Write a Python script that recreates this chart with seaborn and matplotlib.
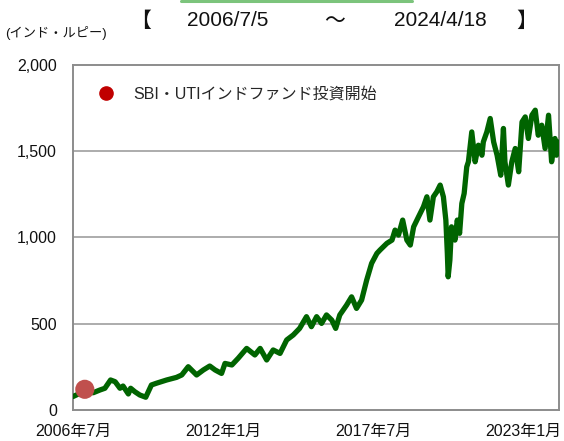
import matplotlib
matplotlib.use("Agg")
import matplotlib.pyplot as plt
import seaborn as sns
import pandas as pd
from matplotlib.lines import Line2D

# ---------------- data ----------------
dates = [
    "2006-07-05", "2006-12-10", "2007-04-01", "2007-07-01", "2007-09-05", "2007-11-20",
    "2008-01-20", "2008-03-25", "2008-05-05", "2008-07-15", "2008-08-15", "2008-10-10",
    "2008-12-15", "2009-03-05", "2009-05-20", "2009-07-25", "2009-12-10", "2010-04-20",
    "2010-06-30", "2010-09-25", "2011-01-15", "2011-04-15", "2011-07-10", "2011-09-20",
    "2011-12-15", "2012-01-30", "2012-05-01", "2012-07-25", "2012-11-15", "2013-03-05",
    "2013-05-15", "2013-08-10", "2013-11-05", "2014-02-05", "2014-05-05", "2014-08-01",
    "2014-10-25", "2015-01-25", "2015-04-01", "2015-06-10", "2015-08-15", "2015-10-20",
    "2015-12-30", "2016-02-20", "2016-04-15", "2016-07-15", "2016-09-20", "2016-11-25",
    "2017-02-01", "2017-04-10", "2017-06-15", "2017-08-25", "2017-10-05", "2018-01-05",
    "2018-03-15", "2018-04-25", "2018-06-10", "2018-08-05", "2018-09-30", "2018-11-15",
    "2018-12-30", "2019-03-05", "2019-05-10", "2019-06-25", "2019-08-05", "2019-09-20",
    "2019-11-05", "2019-12-20", "2020-02-01", "2020-03-05", "2020-03-25", "2020-04-05",
    "2020-04-28", "2020-05-20", "2020-07-05", "2020-08-05", "2020-09-05", "2020-10-05",
    "2020-11-05", "2020-12-10", "2021-01-01", "2021-02-15", "2021-04-01", "2021-05-15",
    "2021-07-01", "2021-07-20", "2021-09-05", "2021-10-20", "2021-12-05", "2022-01-20",
    "2022-03-10", "2022-04-15", "2022-05-05", "2022-06-20", "2022-08-05", "2022-09-20",
    "2022-11-05", "2022-12-20", "2023-02-01", "2023-03-15", "2023-05-01", "2023-06-15",
    "2023-07-25", "2023-09-10", "2023-10-25", "2023-12-10", "2024-01-20", "2024-03-05",
    "2024-03-25", "2024-04-18",
]
values = [
    78, 110, 100, 116, 126, 174,
    164, 126, 139, 93, 126, 106,
    87, 74, 145, 155, 174, 189,
    203, 251, 203, 232, 255, 232,
    212, 270, 261, 300, 357, 319,
    357, 290, 348, 328, 406, 435,
    473, 541, 483, 541, 502, 551,
    521, 473, 551, 608, 656, 589,
    637, 753, 850, 908, 927, 966,
    985, 1043, 1014, 1101, 985, 956,
    1062, 1120, 1178, 1236, 1101, 1236,
    1265, 1304, 1236, 1101, 908, 772,
    869, 1062, 985, 1101, 1024, 1197,
    1255, 1410, 1439, 1612, 1439, 1535,
    1477, 1554, 1612, 1690, 1554, 1477,
    1361, 1632, 1439, 1304, 1439, 1516,
    1381, 1670, 1699, 1574, 1709, 1738,
    1593, 1651, 1516, 1709, 1439, 1574,
    1477, 1554,
]
start_date = "2006-12-10"
start_value = 120
legend_label = "SBI・UTIインドファンド投資開始"
unit_label = "(インド・ルピー)"
period_start = "2006/7/5"
period_end = "2024/4/18"
x_tick_dates = ["2006-07-05", "2012-01-05", "2017-07-05", "2023-01-05"]
x_tick_labels = ["2006年7月", "2012年1月", "2017年7月", "2023年1月"]
y_ticks = [0, 500, 1000, 1500, 2000]
y_tick_labels = ["0", "500", "1,000", "1,500", "2,000"]

# ---------------- styling ----------------
sns.set_theme(style="white")
plt.rcParams["font.family"] = ["Liberation Sans", "Noto Sans CJK JP", "DejaVu Sans"]

df = pd.DataFrame({"date": pd.to_datetime(dates), "value": values})

fig = plt.figure(figsize=(5.64, 4.41), dpi=100)
ax = fig.add_axes([73 / 564, 1 - 410 / 441, (559 - 73) / 564, (410 - 65) / 441])

GRID = "#A6A6A6"
SPINE = "#8C8C8C"
for y in y_ticks[1:-1]:
    ax.axhline(y, color=GRID, lw=1.3, zorder=1)

sns.lineplot(data=df, x="date", y="value", ax=ax, color="#006400", lw=3.8,
             solid_joinstyle="round", solid_capstyle="round", zorder=3)
ax.scatter(pd.to_datetime([start_date]), [start_value], s=190, color="#C0504D",
           edgecolor="none", zorder=4)

ax.set_xlim(pd.Timestamp("2006-07-05"), pd.Timestamp("2024-04-28"))
ax.set_ylim(0, 2000)
ax.set_xticks(pd.to_datetime(x_tick_dates))
ax.set_xticklabels(x_tick_labels)
ax.set_yticks(y_ticks)
ax.set_yticklabels(y_tick_labels)
ax.set_xlabel("")
ax.set_ylabel("")
ax.tick_params(axis="x", direction="in", length=4, width=1.2, color=SPINE,
               labelsize=11.5, pad=10, labelcolor="#111111")
ax.tick_params(axis="y", length=0, labelsize=11.5, pad=11.5, labelcolor="#111111")
for s in ax.spines.values():
    s.set_visible(True)
    s.set_color(SPINE)
    s.set_linewidth(1.4)

# legend-like annotation
ax.legend(handles=[Line2D([], [], marker="o", ls="none", color="#C00000",
                          markersize=9.5, label=legend_label)],
          loc="upper left", bbox_to_anchor=(0.012, 0.97), frameon=False,
          fontsize=11.5, handletextpad=0.7, borderaxespad=0.3)

# header texts
fig.text(5 / 564, 1 - 33 / 441, unit_label, fontsize=9.5, va="center", ha="left",
         color="#111111")
fig.text(141 / 564, 1 - 21 / 441, "【", fontsize=15, va="center", ha="center",
         color="#111111")
fig.text(228 / 564, 1 - 21 / 441, period_start, fontsize=15, va="center",
         ha="center", color="#111111")
fig.text(335 / 564, 1 - 22 / 441, "～", fontsize=15, va="center", ha="center",
         color="#111111")
fig.text(440 / 564, 1 - 21 / 441, period_end, fontsize=15, va="center",
         ha="center", color="#111111")
fig.text(527 / 564, 1 - 21 / 441, "】", fontsize=15, va="center", ha="center",
         color="#111111")
fig.add_artist(Line2D([181 / 564, 412 / 564], [1 - 1 / 441, 1 - 1 / 441],
                      transform=fig.transFigure, color="#7CC47C", lw=2.2,
                      solid_capstyle="round"))

fig.savefig("out.png", dpi=100)
